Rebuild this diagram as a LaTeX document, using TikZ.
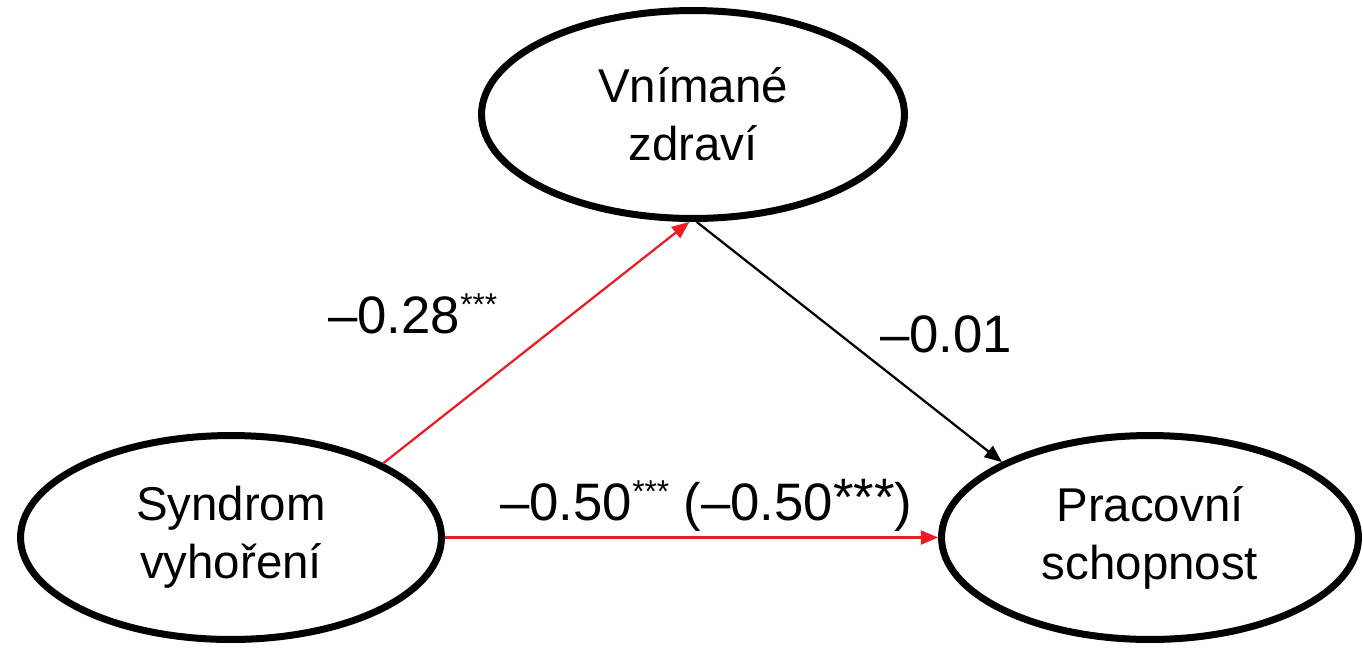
\documentclass[tikz,border=0pt]{standalone}
\usepackage{fontspec}
\setmainfont{Liberation Sans}
\usepackage{tikz}
\usetikzlibrary{arrows,shapes.geometric}
\definecolor{pathred}{RGB}{237,28,36}

\begin{document}
\begin{tikzpicture}[x=0.02cm,y=-0.02cm,
  latent/.style={draw,ellipse,line width=0.14cm,inner sep=0pt,align=center,font=\fontsize{27}{33}\selectfont},
  coef/.style={inner sep=0pt,anchor=base west,font=\fontsize{30}{36}\selectfont},
  effect/.style={-triangle 45,line width=0.045cm}]
\useasboundingbox (0,0) rectangle (1363,647);
\node[latent,minimum width=8.46cm,minimum height=4.16cm] (vz) at (693,114.5) {Vnímané\\zdraví};
\node[latent,minimum width=8.42cm,minimum height=4.08cm] (syn) at (231,537.5) {Syndrom\\vyhoření};
\node[latent,minimum width=8.34cm,minimum height=4.08cm] (pc) at (1150,537.5) {Pracovní\\schopnost};
\draw[effect,pathred] (syn.26.6) -- (vz.-92);
\draw[effect] (vz.-88) -- (pc.153.3);
\draw[effect,pathred] (syn.east) -- (pc.west);
\node[coef] (sv) at (328,333) {--0.28\raisebox{0.34em}{\fontsize{18}{18}\selectfont ***}};
\node[coef] (vp) at (880,352) {--0.01};
\node[coef] (sp) at (500,520) {--0.50\raisebox{0.34em}{\fontsize{18}{18}\selectfont ***} (--0.50\raisebox{0.08em}{***})};
\end{tikzpicture}
\end{document}
